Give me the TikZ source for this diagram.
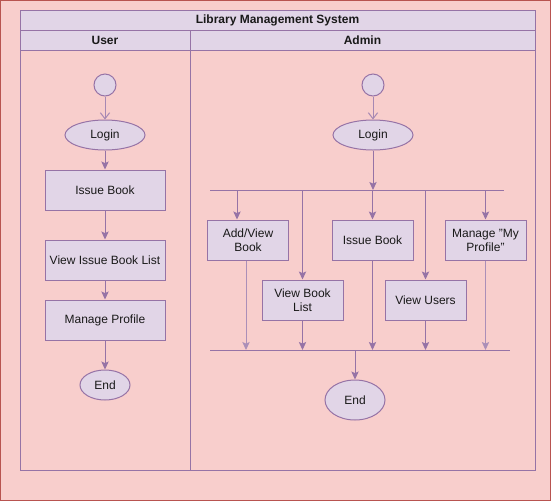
\documentclass[tikz,border=0pt]{standalone}
\usepackage{fontspec}
\setmainfont{Liberation Sans}
\usetikzlibrary{arrows.meta,shapes.geometric,calc}
\definecolor{bgpink}{HTML}{F8CECC}
\definecolor{bgred}{HTML}{B85450}
\definecolor{lil}{HTML}{E1D5E7}
\definecolor{lilline}{HTML}{9673A6}
\tikzset{
  every node/.style={font=\fontsize{9pt}{10.5pt}\selectfont, text=black!90},
  cell/.style={draw=lilline, fill=lil, line width=0.75pt},
  act/.style={draw=lilline, fill=lil, line width=0.75pt, rectangle, minimum width=90pt, minimum height=30pt, inner sep=1pt, align=center},
  sact/.style={act, minimum width=60.75pt},
  oval/.style={draw=lilline, fill=lil, line width=0.75pt, ellipse, inner sep=0pt},
  startc/.style={draw=lilline, fill=lil, line width=0.75pt, circle, minimum size=16.5pt, inner sep=0pt},
  arr/.style={draw=lilline, line width=0.75pt, -{Stealth[length=6pt,width=5.5pt,inset=1.2pt]}},
  oarr/.style={draw=lilline!85, line width=0.75pt, -{Straight Barb[length=4.5pt,width=7pt]}},
  bar/.style={draw=lilline, line width=0.75pt}
}
\begin{document}
\begin{tikzpicture}[x=0.75pt,y=-0.75pt]
\useasboundingbox (0,0) rectangle (551,501);
\fill[bgpink] (0,0) rectangle (551,501);
\draw[bgred, line width=0.75pt] (0.5,0.5) rectangle (550.5,500.5);
% pool
\draw[lilline, line width=0.75pt] (20,50) rectangle (190,470);
\draw[lilline, line width=0.75pt] (190,50) rectangle (535,470);
\draw[cell] (20,10) rectangle (535,30);
\draw[cell] (20,30) rectangle (190,50);
\draw[cell] (190,30) rectangle (535,50);
\node[font=\fontsize{9pt}{10.5pt}\selectfont\bfseries] (title) at (277.5,20) {Library Management System};
\node[font=\fontsize{9pt}{10.5pt}\selectfont\bfseries] (huser) at (105,40) {User};
\node[font=\fontsize{9pt}{10.5pt}\selectfont\bfseries] (hadmin) at (362.5,40) {Admin};
% user lane
\node[startc] (us) at (105,85) {};
\node[oval, minimum width=60pt, minimum height=22.5pt] (ulogin) at (105,135) {Login};
\node[act] (uissue) at (105,190) {Issue Book};
\node[act] (ulist) at (105,260) {View Issue Book List};
\node[act] (uprof) at (105,320) {Manage Profile};
\node[oval, minimum width=37.5pt, minimum height=22.5pt] (uend) at (105,385) {End};
\draw[oarr] (us) -- (ulogin);
\draw[arr] (ulogin) -- (uissue);
\draw[arr] (uissue) -- (ulist);
\draw[arr] (ulist) -- (uprof);
\draw[arr] (uprof) -- (uend);
% admin lane
\node[startc] (as) at (373,85) {};
\node[oval, minimum width=60pt, minimum height=22.5pt] (alogin) at (373,135) {Login};
\coordinate (fl) at (210,190);
\coordinate (fr) at (504,190);
\draw[bar] (fl) -- (fr);
\coordinate (forkc) at (373,190);
\draw[oarr] (as) -- (alogin);
\draw[arr] (alogin) -- (forkc);
\node[sact] (aadd) at (248,240) {Add/View\\Book};
\node[sact] (alist) at (302.5,300) {View Book\\List};
\node[sact] (aissue) at (372.5,240) {Issue Book};
\node[sact] (ausers) at (425.5,300) {View Users};
\node[sact] (aprof) at (485.5,240) {Manage "My\\Profile"};
\coordinate (jl) at (210,350);
\coordinate (jr) at (510,350);
\draw[bar] (jl) -- (jr);
\draw[arr] ([xshift=-8.25pt]aadd.north |- fl) -- ([xshift=-8.25pt]aadd.north);
\draw[arr] (alist.north |- fl) -- (alist.north);
\draw[arr] (aissue.north |- fl) -- (aissue.north);
\draw[arr] (ausers.north |- fl) -- (ausers.north);
\draw[arr] (aprof.north |- fl) -- (aprof.north);
\draw[arr, draw=lilline!80] ([xshift=-1.5pt]aadd.south) -- ([xshift=-1.5pt]aadd.south |- jl);
\draw[arr] (alist.south) -- (alist.south |- jl);
\draw[arr] (aissue.south) -- (aissue.south |- jl);
\draw[arr] (ausers.south) -- (ausers.south |- jl);
\draw[arr, draw=lilline!80] (aprof.south) -- (aprof.south |- jl);
\node[oval, minimum width=45pt, minimum height=30pt] (aend) at (355,400) {End};
\draw[arr] (aend.north |- jl) -- (aend);
\end{tikzpicture}
\end{document}
